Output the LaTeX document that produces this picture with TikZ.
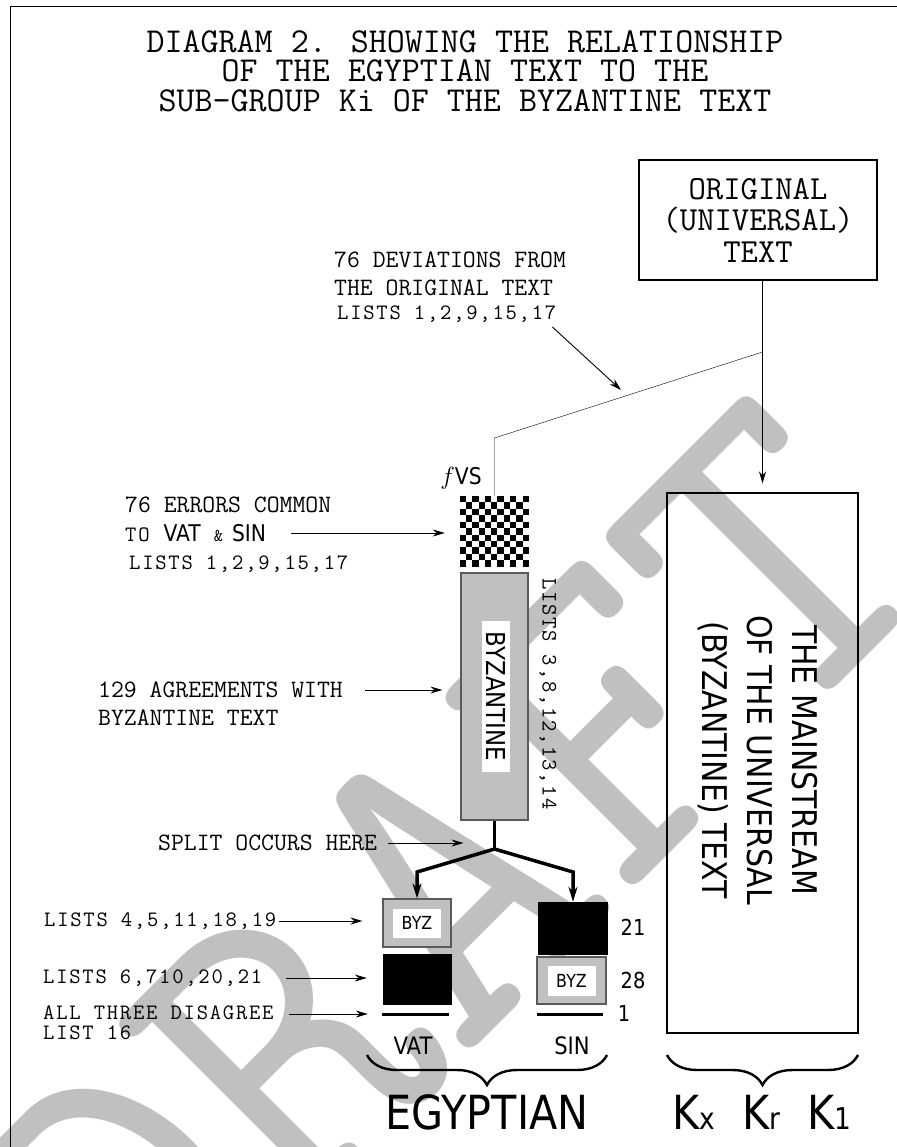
\documentclass[tikz,border=0pt]{standalone}
\usepackage{fontspec}
\newfontfamily\cour{Latin Modern Mono}
\newfontfamily\listfont[LetterSpace=8]{Latin Modern Mono}
\newfontfamily\sansfnt[FakeStretch=0.88]{DejaVu Sans}
\usetikzlibrary{arrows.meta,positioning,calc,decorations.pathreplacing}
\definecolor{silver}{RGB}{192,192,192}
\definecolor{edgegray}{RGB}{90,90,90}

\begin{document}
\begin{tikzpicture}[x=1pt, y=-1pt,
  lbl/.style={font=\cour\fontsize{25}{28}\selectfont, anchor=west, inner sep=0pt},
  lst/.style={font=\listfont\fontsize{22}{20}\selectfont, anchor=west, inner sep=0pt},
  snum/.style={font=\sansfnt\fontsize{22}{22}\selectfont, inner sep=0pt},
  arr/.style={-{Stealth[length=12pt,width=7pt]}, line width=0.9pt},
  thk/.style={-{Stealth[length=15pt,width=9pt]}, line width=3.5pt},
  byzbox/.style={draw=edgegray, line width=1.2pt, fill=silver, minimum width=68pt, minimum height=48pt, inner sep=0pt},
  byzin/.style={fill=white, font=\sansfnt\fontsize{18}{18}\selectfont, minimum width=48pt, minimum height=29pt, inner sep=0pt},
  blkbox/.style={fill=black, minimum width=70pt, minimum height=51pt, inner sep=0pt},
  disline/.style={fill=black, minimum width=67pt, minimum height=3pt, inner sep=0pt},
  brc/.style={decorate, decoration={brace, amplitude=30pt}, line width=2.4pt}
]
  \useasboundingbox (0,0) rectangle (896,1147);

  % watermark
  \node[rotate=45, text=silver, font=\cour\fontsize{445}{445}\selectfont, inner sep=0pt] (wm) at (446,884) {DRAFT};

  % frame
  \draw[line width=1pt] (10,1160) -- (10,7) -- (910,7);

  \node[font=\cour\fontsize{35}{29.5}\selectfont, align=center] (title) at (465,71)
    {DIAGRAM 2. SHOWING THE RELATIONSHIP\\OF THE EGYPTIAN TEXT TO THE\\SUB-GROUP Ki OF THE BYZANTINE TEXT};

  % original text and mainstream
  \node[draw, line width=1.2pt, minimum width=238pt, minimum height=120pt, align=center,
        font=\cour\fontsize{33.7}{31.5}\selectfont] (orig) at (758,220) {ORIGINAL\\(UNIVERSAL)\\TEXT};
  \node[draw, line width=1.2pt, minimum width=191pt, minimum height=540pt] (mainbox) at (762.5,763) {};
  \node[rotate=-90, align=center, font=\sansfnt\fontsize{34}{45}\selectfont] (maintxt) at (758,760)
    {THE MAINSTREAM\\OF THE UNIVERSAL\\(BYZANTINE) TEXT};
  \draw[arr] (orig.south -| mainbox.north) -- ([yshift=9pt]mainbox.north);

  % deviation
  \coordinate (jn) at (762.5,352);
  \coordinate (bend) at (494.5,438);
  \coordinate (devtip) at (621,390);
  \node[lbl] (devA) at (334,260) {76 DEVIATIONS FROM};
  \node[lbl] (devB) at (334,288) {THE ORIGINAL TEXT};
  \node[lst] (devC) at (337,314) {LISTS 1,2,9,15,17};
  \draw[arr] ([shift={(-4,13)}]devC.east) -- (devtip);

  % fVS column
  \node[font=\sansfnt\fontsize{23}{23}\selectfont, inner sep=0pt] (fvs) at (461,478) {$f$VS};
  \node[fill=white, minimum width=69pt, minimum height=71pt, inner sep=0pt] (chk) at (494.5,531.5) {};
  \foreach \i in {0,...,10}{
    \foreach \j in {0,...,10}{
      \pgfmathtruncatemacro\odd{mod(\i+\j,2)}
      \ifnum\odd=0
        \fill ($(chk.north west)+(\i*6.27,\j*6.45)$) rectangle +(6.27,6.45);
      \fi
    }
  }
  \draw (jn) -- (bend) -- (chk.north);

  \node[lbl] (errA) at (125,505) {76 ERRORS COMMON};
  \node[anchor=west, inner sep=0pt] (errB) at (125,533)
    {{\listfont\fontsize{22}{20}\selectfont TO}\hspace{14pt}{\sansfnt\fontsize{23}{23}\selectfont VAT}\hspace{13pt}{\listfont\fontsize{18}{20}\selectfont\&}\hspace{9pt}{\sansfnt\fontsize{23}{23}\selectfont SIN}};
  \node[lst] (errC) at (129,564) {LISTS 1,2,9,15,17};
  \draw[arr, shorten <=25pt, shorten >=15pt] (errB.east) -- (errB.east -| chk.west);

  \node[draw=edgegray, line width=1.2pt, fill=silver, minimum width=67pt, minimum height=247pt] (byzcol) at (494.5,696.5) {};
  \node[rotate=-90, fill=white, font=\sansfnt\fontsize{26}{26}\selectfont, inner xsep=11pt, inner ysep=5pt] (byzlbl) at (496,696.5) {BYZANTINE};
  \node[lst, rotate=-90] (lstcol) at (548,578) {LISTS 3,8,12,13,14};

  \node[lbl] (agrA) at (98,690) {129 AGREEMENTS WITH};
  \node[lbl] (agrB) at (98,718) {BYZANTINE TEXT};
  \draw[arr, shorten <=22pt, shorten >=18pt] (agrA.east) -- (agrA.east -| byzcol.west);

  % split
  \coordinate (split) at (494.5,849);
  \node[lbl] (splitlbl) at (158,843) {SPLIT OCCURS HERE};
  \draw[arr, shorten <=11pt, shorten >=31pt] (splitlbl.east) -- (splitlbl.east -| split);

  \node[byzbox] (byzA) at (417,923) {};
  \node[byzin] at (byzA) {BYZ};
  \node[blkbox, minimum width=69pt] (blkA) at (417.5,979.5) {};
  \node[disline] (lineA) at (415.5,1014) {};
  \node[blkbox, minimum height=53pt] (blkB) at (573,928.5) {};
  \node[byzbox, minimum width=69pt, minimum height=47pt] (byzB) at (571.5,980.5) {};
  \node[byzin, minimum height=30pt] at (byzB) {BYZ};
  \node[disline, minimum width=66pt] (lineB) at (570,1014) {};

  \draw[line width=3.5pt] (byzcol.south) -- (split);
  \draw[thk] (split) -- (417,872) -- (byzA.north);
  \draw[thk] (split) -- (573,872) -- (blkB.north);

  \node[snum] (n21) at (633,927) {21};
  \node[snum] (n28) at (633,980) {28};
  \node[snum] (n1) at (624,1013) {1};

  \node[lst] (lstA) at (44,921) {LISTS 4,5,11,18,19};
  \node[lst] (lstB) at (43,978) {LISTS 6,710,20,21};
  \node[lst, align=left, font=\listfont\fontsize{22}{20}\selectfont, anchor=north west] (lstC) at (43,1006) {ALL THREE DISAGREE\\LIST 16};
  \draw[arr, shorten <=3pt, shorten >=20pt] (lstA.east) -- (lstA.east -| byzA.west);
  \draw[arr, shorten <=24pt, shorten >=16pt] (lstB.east) -- (lstB.east -| blkA.west);
  \draw[arr, shorten <=15pt, shorten >=14pt] (lstC.east |- lineA) -- (lineA.west);

  % witnesses and groups
  \node[font=\sansfnt\fontsize{24}{24}\selectfont] (vat) at (413,1046) {VAT};
  \node[font=\sansfnt\fontsize{24}{24}\selectfont] (sin) at (572,1046) {SIN};
  \draw[brc] (607,1055) -- (367,1055);
  \draw[brc] (858,1055) -- (667,1055);
  \node[font=\sansfnt\fontsize{47}{47}\selectfont] (egy) at (487,1112) {EGYPTIAN};
  \node[font=\sansfnt\fontsize{47}{47}\selectfont] (kgrp) at (762,1112)
    {K{\fontsize{30}{30}\selectfont x}\hspace{27pt}K{\fontsize{30}{30}\selectfont r}\hspace{27pt}K{\fontsize{30}{30}\selectfont 1}};
\end{tikzpicture}
\end{document}
